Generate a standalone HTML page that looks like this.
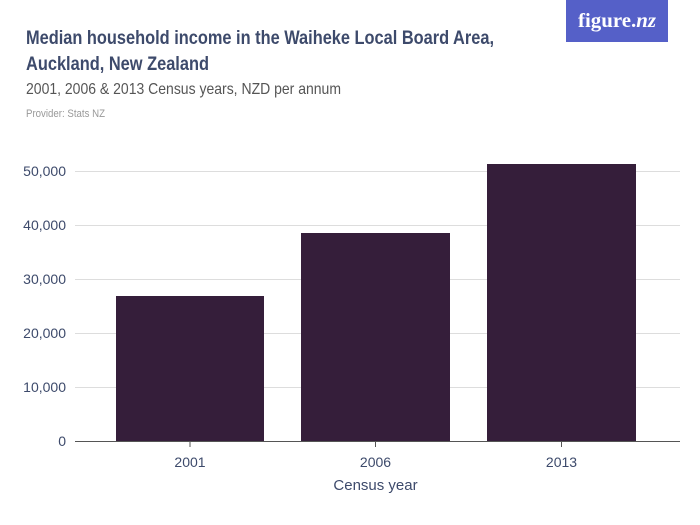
<!DOCTYPE html>
<html><head><meta charset="utf-8"><style>
body{margin:0;background:#fff;}
svg{display:block;font-family:"Liberation Sans Narrow","Liberation Sans",sans-serif;}
</style></head><body>
<svg width="700" height="525" viewBox="0 0 700 525">
<rect x="566" y="0" width="102" height="42" fill="#5560c8"/>
<text x="617" y="27" text-anchor="middle" fill="#fff" font-size="20" font-family="Liberation Serif,serif" font-weight="bold" textLength="78" lengthAdjust="spacingAndGlyphs">figure.<tspan font-style="italic">nz</tspan></text>
<text x="26" y="44" fill="#3d4a6b" font-size="19" font-weight="bold" textLength="468" lengthAdjust="spacingAndGlyphs">Median household income in the Waiheke Local Board Area,</text>
<text x="26" y="70" fill="#3d4a6b" font-size="19" font-weight="bold" textLength="183" lengthAdjust="spacingAndGlyphs">Auckland, New Zealand</text>
<text x="26" y="94" fill="#555" font-size="16" textLength="315" lengthAdjust="spacingAndGlyphs">2001, 2006 &amp; 2013 Census years, NZD per annum</text>
<text x="26" y="117" fill="#999" font-size="11" textLength="79" lengthAdjust="spacingAndGlyphs">Provider: Stats NZ</text>
<g stroke="#ddd" stroke-width="1">
<line x1="75" x2="680" y1="171.5" y2="171.5"/>
<line x1="75" x2="680" y1="225.5" y2="225.5"/>
<line x1="75" x2="680" y1="279.5" y2="279.5"/>
<line x1="75" x2="680" y1="333.5" y2="333.5"/>
<line x1="75" x2="680" y1="387.5" y2="387.5"/>
</g>
<g fill="#3d4a6b" font-size="14" text-anchor="end">
<text x="66" y="176">50,000</text>
<text x="66" y="230">40,000</text>
<text x="66" y="284">30,000</text>
<text x="66" y="338">20,000</text>
<text x="66" y="392">10,000</text>
<text x="66" y="446">0</text>
</g>
<g fill="#351e3a">
<rect x="116" y="296" width="148" height="145"/>
<rect x="301" y="233" width="149" height="208"/>
<rect x="487" y="164" width="149" height="277"/>
</g>
<line x1="75" x2="680" y1="441.5" y2="441.5" stroke="#555"/>
<g stroke="#555"><line x1="190" x2="190" y1="441" y2="447"/><line x1="375.5" x2="375.5" y1="441" y2="447"/><line x1="561.5" x2="561.5" y1="441" y2="447"/></g>
<g fill="#3d4a6b" font-size="14" text-anchor="middle">
<text x="190" y="467">2001</text>
<text x="375.5" y="467">2006</text>
<text x="561.5" y="467">2013</text>
<text x="375.5" y="490" font-size="15">Census year</text>
</g>
</svg>
</body></html>
